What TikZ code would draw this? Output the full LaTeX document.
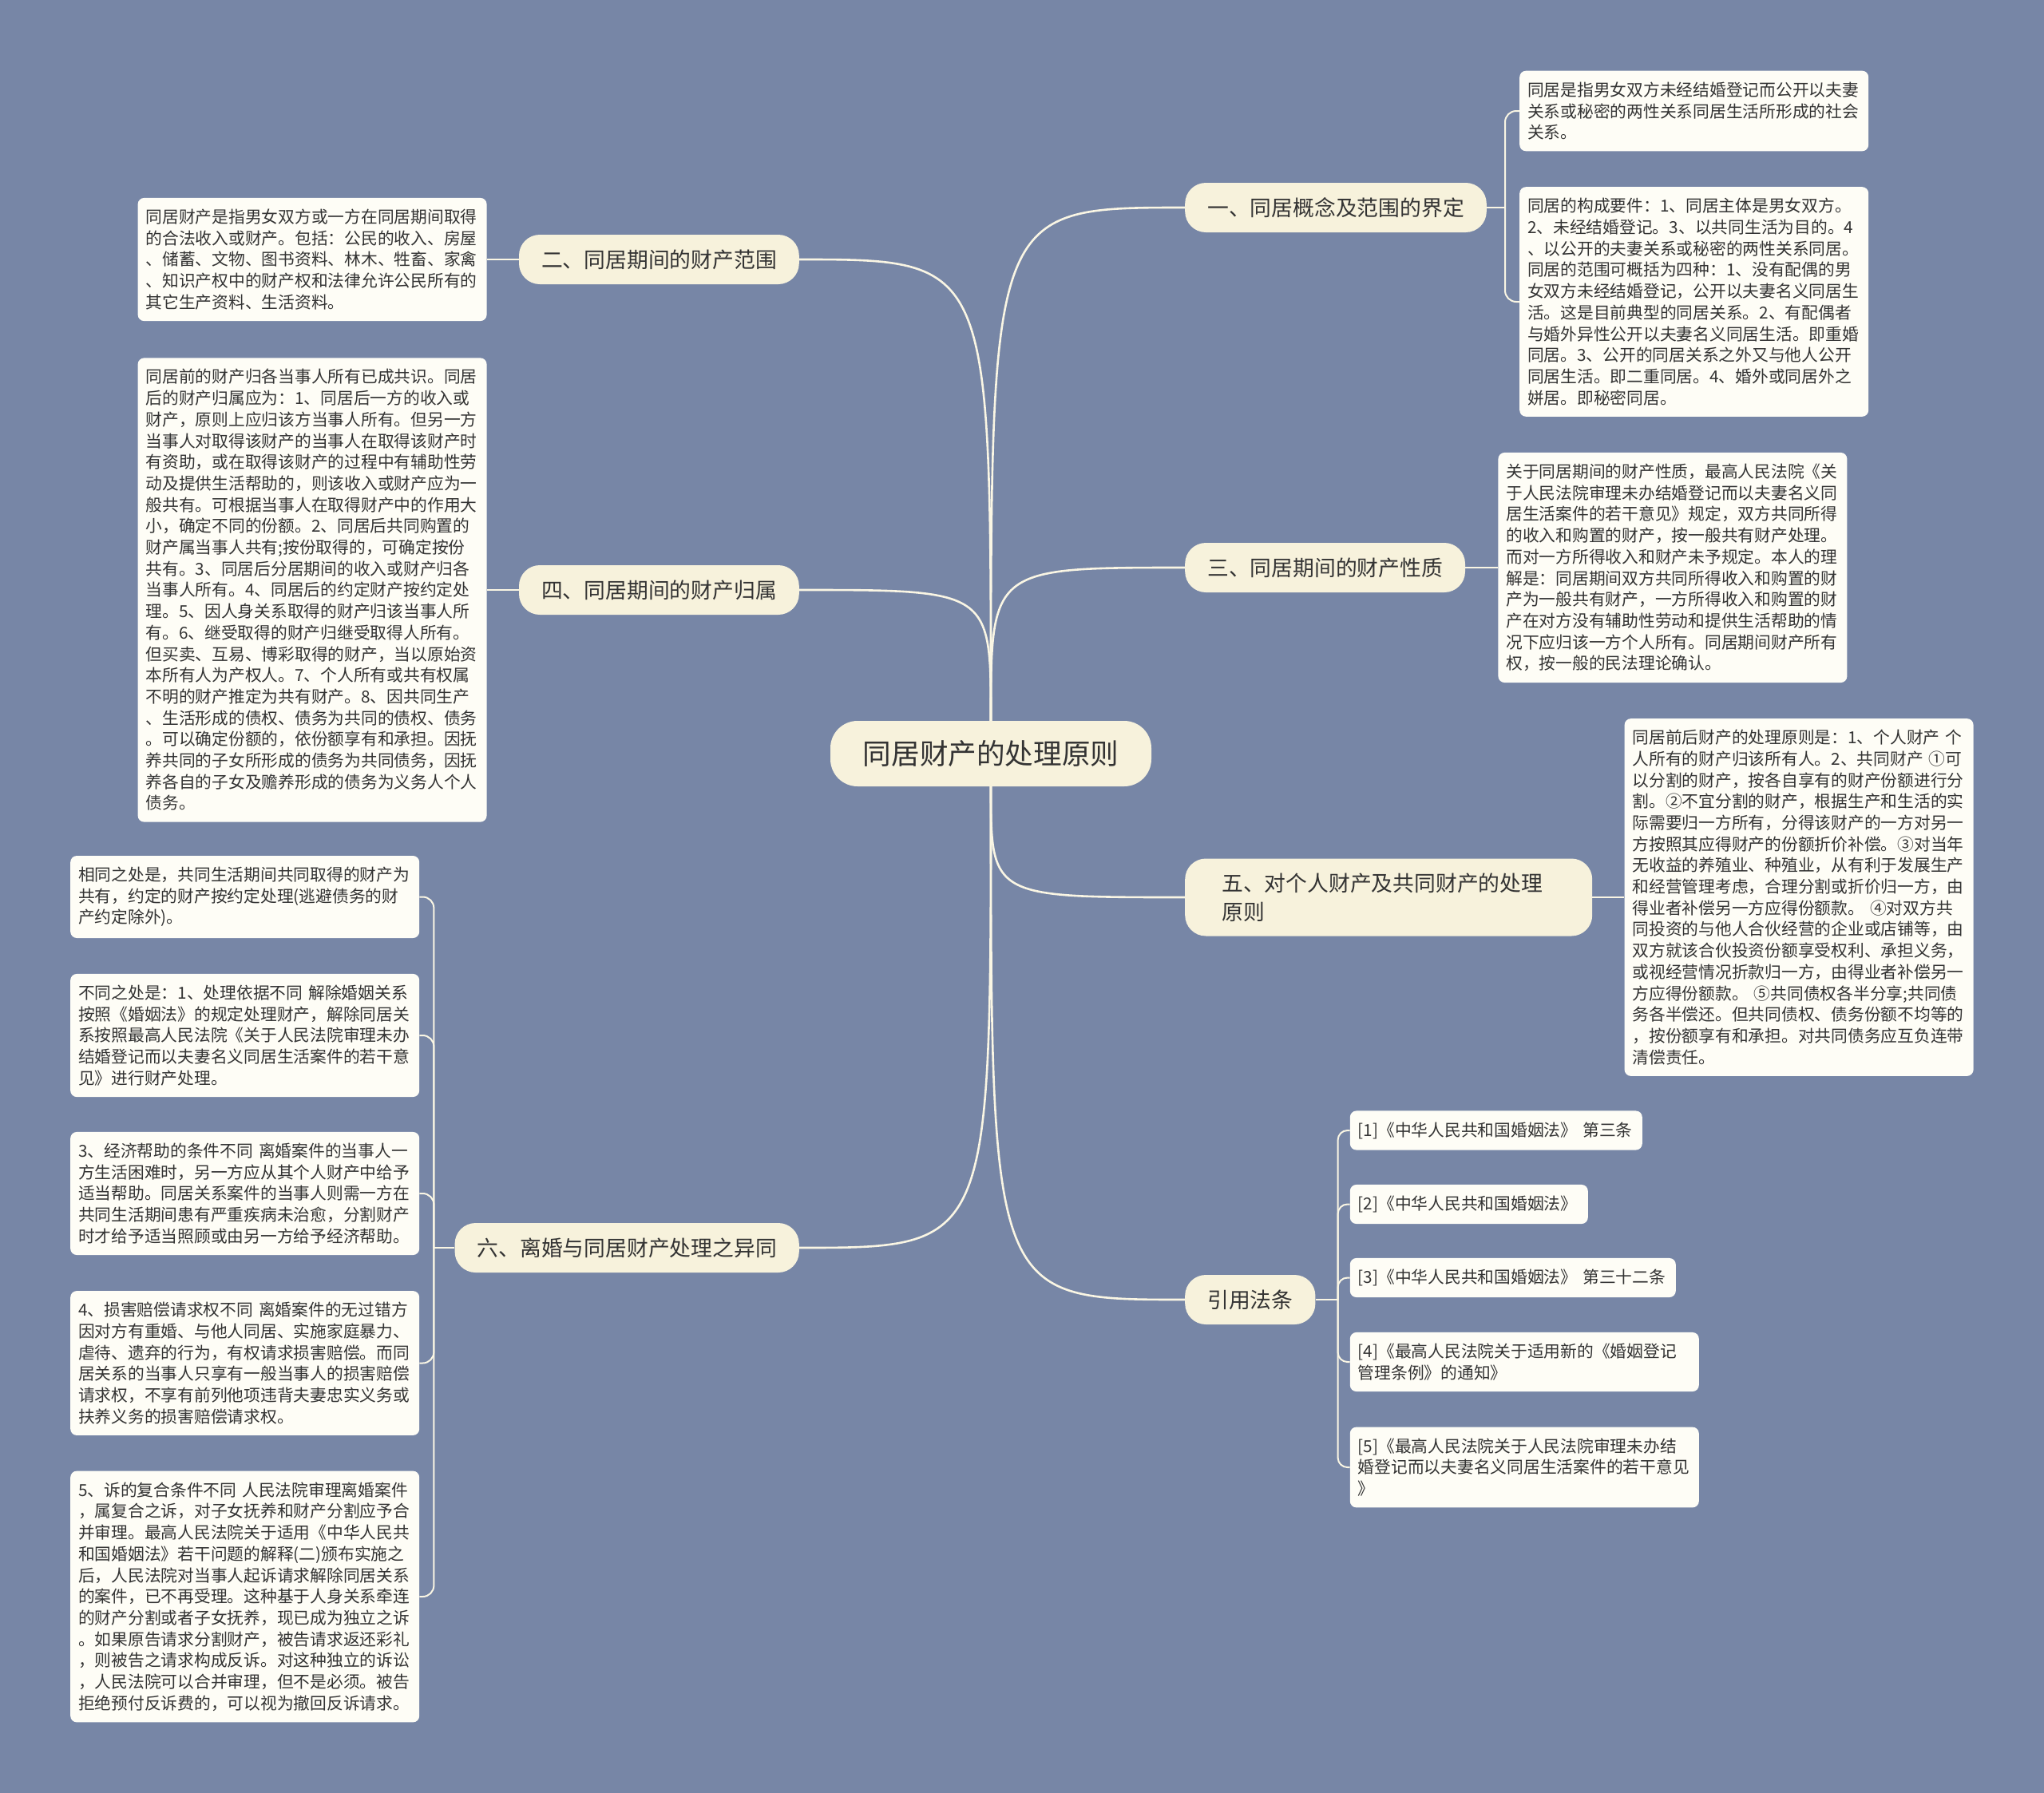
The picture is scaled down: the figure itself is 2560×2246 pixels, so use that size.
\documentclass[tikz,border=0pt]{standalone}
\usepackage{fontspec}
\setmainfont{Noto Sans CJK SC}
\usetikzlibrary{positioning}
\definecolor{bgfill}{HTML}{7786A6}
\definecolor{hubfill}{HTML}{F7F2DC}
\definecolor{topicfill}{HTML}{F7F2DC}
\definecolor{leaffill}{HTML}{FEFDF6}
\definecolor{wire}{HTML}{FAF6E4}
\definecolor{ink}{HTML}{333333}
\newcommand{\leaffont}{\fontsize{20.75pt}{26.7pt}\selectfont}
\newcommand{\topicfont}{\fontsize{26.8pt}{36pt}\selectfont}
\newcommand{\hubfont}{\fontsize{35.6pt}{42pt}\selectfont}
\tikzset{
  bigbox/.style={
    text=ink,
    inner ysep=0pt
  },
  hub/.style={bigbox, fill=hubfill, rounded corners=34pt, minimum width=402pt, minimum height=82pt, font=\hubfont},
  topic/.style={bigbox, fill=topicfill, rounded corners=26pt, inner xsep=28pt, minimum height=62pt, font=\topicfont},
  topicwide/.style={topic, text width=418pt, align=left, inner xsep=46pt, minimum height=97pt},
  leaf/.style={bigbox, fill=leaffill, rounded corners=8pt, inner xsep=10pt, inner ysep=14pt, text width=417pt, align=left, font=\leaffont},
  cite/.style={leaf},
  trunk/.style={draw=wire, line width=2.6pt},
  twig/.style={draw=wire, line width=2pt}
}

\begin{document}
\begin{tikzpicture}[x=1pt, y=-1pt]

  \fill[bgfill] (0,0) rectangle (2560,2246);
  \useasboundingbox (0,0) rectangle (2560,2246);

  \node[hub] (hub) at (1241,944) {同居财产的处理原则};

  \node[topic, anchor=west] (t1) at (1484,260) {一、同居概念及范围的界定};
  \node[topic, anchor=east] (t2) at (1001,325) {二、同居期间的财产范围};
  \node[topic, anchor=west] (t3) at (1484,711) {三、同居期间的财产性质};
  \node[topic, anchor=east] (t4) at (1001,739) {四、同居期间的财产归属};
  \node[topicwide, anchor=west] (t5) at (1484,1124) {五、对个人财产及共同财产的处理\\原则};
  \node[topic, anchor=east] (t6) at (1001,1563) {六、离婚与同居财产处理之异同};
  \node[topic, anchor=west] (t7) at (1484,1628) {引用法条};

  % right side
  \node[leaf, right=41pt of t1, yshift=121pt] (l1a) {同居是指男女双方未经结婚登记而公开以夫妻\\
    关系或秘密的两性关系同居生活所形成的社会\\
    关系。};
  \node[leaf, right=41pt of t1, yshift=-118pt] (l1b) {同居的构成要件：1、同居主体是男女双方。\\
    2、未经结婚登记。3、以共同生活为目的。4\\
    、以公开的夫妻关系或秘密的两性关系同居。\\
    同居的范围可概括为四种：1、没有配偶的男\\
    女双方未经结婚登记，公开以夫妻名义同居生\\
    活。这是目前典型的同居关系。2、有配偶者\\
    与婚外异性公开以夫妻名义同居生活。即重婚\\
    同居。3、公开的同居关系之外又与他人公开\\
    同居生活。即二重同居。4、婚外或同居外之\\
    姘居。即秘密同居。};
  \node[leaf, right=41pt of t3] (l3) {关于同居期间的财产性质，最高人民法院《关\\
    于人民法院审理未办结婚登记而以夫妻名义同\\
    居生活案件的若干意见》规定，双方共同所得\\
    的收入和购置的财产，按一般共有财产处理。\\
    而对一方所得收入和财产未予规定。本人的理\\
    解是：同居期间双方共同所得收入和购置的财\\
    产为一般共有财产，一方所得收入和购置的财\\
    产在对方没有辅助性劳动和提供生活帮助的情\\
    况下应归该一方个人所有。同居期间财产所有\\
    权，按一般的民法理论确认。};
  \node[leaf, right=40pt of t5] (l5) {同居前后财产的处理原则是：1、个人财产 个\\
    人所有的财产归该所有人。2、共同财产 ①可\\
    以分割的财产，按各自享有的财产份额进行分\\
    割。②不宜分割的财产，根据生产和生活的实\\
    际需要归一方所有，分得该财产的一方对另一\\
    方按照其应得财产的份额折价补偿。③对当年\\
    无收益的养殖业、种殖业，从有利于发展生产\\
    和经营管理考虑，合理分割或折价归一方，由\\
    得业者补偿另一方应得份额款。 ④对双方共\\
    同投资的与他人合伙经营的企业或店铺等，由\\
    双方就该合伙投资份额享受权利、承担义务，\\
    或视经营情况折款归一方，由得业者补偿另一\\
    方应得份额款。 ⑤共同债权各半分享;共同债\\
    务各半偿还。但共同债权、债务份额不均等的\\
    ，按份额享有和承担。对共同债务应互负连带\\
    清偿责任。};

  \node[cite, text width=346pt, right=43pt of t7, yshift=212pt] (r1) {[1]《中华人民共和国婚姻法》 第三条};
  \node[cite, text width=278pt, right=43pt of t7, yshift=119.5pt] (r2) {[2]《中华人民共和国婚姻法》};
  \node[cite, text width=388pt, right=43pt of t7, yshift=27.5pt] (r3) {[3]《中华人民共和国婚姻法》 第三十二条};
  \node[cite, right=43pt of t7, yshift=-78pt] (r4) {[4]《最高人民法院关于适用新的《婚姻登记\\
    管理条例》的通知》};
  \node[cite, right=43pt of t7, yshift=-210pt] (r5) {[5]《最高人民法院关于人民法院审理未办结\\
    婚登记而以夫妻名义同居生活案件的若干意见\\
    》};

  % left side
  \node[leaf, left=40pt of t2] (l2) {同居财产是指男女双方或一方在同居期间取得\\
    的合法收入或财产。包括：公民的收入、房屋\\
    、储蓄、文物、图书资料、林木、牲畜、家禽\\
    、知识产权中的财产权和法律允许公民所有的\\
    其它生产资料、生活资料。};
  \node[leaf, left=40pt of t4] (l4) {同居前的财产归各当事人所有已成共识。同居\\
    后的财产归属应为：1、同居后一方的收入或\\
    财产，原则上应归该方当事人所有。但另一方\\
    当事人对取得该财产的当事人在取得该财产时\\
    有资助，或在取得该财产的过程中有辅助性劳\\
    动及提供生活帮助的，则该收入或财产应为一\\
    般共有。可根据当事人在取得财产中的作用大\\
    小，确定不同的份额。2、同居后共同购置的\\
    财产属当事人共有;按份取得的，可确定按份\\
    共有。3、同居后分居期间的收入或财产归各\\
    当事人所有。4、同居后的约定财产按约定处\\
    理。5、因人身关系取得的财产归该当事人所\\
    有。6、继受取得的财产归继受取得人所有。\\
    但买卖、互易、博彩取得的财产，当以原始资\\
    本所有人为产权人。7、个人所有或共有权属\\
    不明的财产推定为共有财产。8、因共同生产\\
    、生活形成的债权、债务为共同的债权、债务\\
    。可以确定份额的，依份额享有和承担。因抚\\
    养共同的子女所形成的债务为共同债务，因抚\\
    养各自的子女及赡养形成的债务为义务人个人\\
    债务。};

  \node[leaf, left=44pt of t6, yshift=439.5pt] (s1) {相同之处是，共同生活期间共同取得的财产为\\
    共有，约定的财产按约定处理(逃避债务的财\\
    产约定除外)。};
  \node[leaf, left=44pt of t6, yshift=266pt] (s2) {不同之处是：1、处理依据不同 解除婚姻关系\\
    按照《婚姻法》的规定处理财产，解除同居关\\
    系按照最高人民法院《关于人民法院审理未办\\
    结婚登记而以夫妻名义同居生活案件的若干意\\
    见》进行财产处理。};
  \node[leaf, left=44pt of t6, yshift=68pt] (s3) {3、经济帮助的条件不同 离婚案件的当事人一\\
    方生活困难时，另一方应从其个人财产中给予\\
    适当帮助。同居关系案件的当事人则需一方在\\
    共同生活期间患有严重疾病未治愈，分割财产\\
    时才给予适当照顾或由另一方给予经济帮助。};
  \node[leaf, left=44pt of t6, yshift=-144.5pt] (s4) {4、损害赔偿请求权不同 离婚案件的无过错方\\
    因对方有重婚、与他人同居、实施家庭暴力、\\
    虐待、遗弃的行为，有权请求损害赔偿。而同\\
    居关系的当事人只享有一般当事人的损害赔偿\\
    请求权，不享有前列他项违背夫妻忠实义务或\\
    扶养义务的损害赔偿请求权。};
  \node[leaf, left=44pt of t6, yshift=-437pt] (s5) {5、诉的复合条件不同 人民法院审理离婚案件\\
    ，属复合之诉，对子女抚养和财产分割应予合\\
    并审理。最高人民法院关于适用《中华人民共\\
    和国婚姻法》若干问题的解释(二)颁布实施之\\
    后，人民法院对当事人起诉请求解除同居关系\\
    的案件，已不再受理。这种基于人身关系牵连\\
    的财产分割或者子女抚养，现已成为独立之诉\\
    。如果原告请求分割财产，被告请求返还彩礼\\
    ，则被告之请求构成反诉。对这种独立的诉讼\\
    ，人民法院可以合并审理，但不是必须。被告\\
    拒绝预付反诉费的，可以视为撤回反诉请求。};

  % hub to topics
  \draw[trunk] (hub.north) .. controls (hub.north |- t1.west) .. (t1.west);
  \draw[trunk] (hub.north) .. controls (hub.north |- t2.east) .. (t2.east);
  \draw[trunk] (hub.north) .. controls (hub.north |- t3.west) .. (t3.west);
  \draw[trunk] (hub.north) .. controls (hub.north |- t4.east) .. (t4.east);
  \draw[trunk] (hub.south) .. controls (hub.south |- t5.west) .. (t5.west);
  \draw[trunk] (hub.south) .. controls (hub.south |- t6.east) .. (t6.east);
  \draw[trunk] (hub.south) .. controls (hub.south |- t7.west) .. (t7.west);

  % topics to leaves
  \coordinate[right=23pt of t1.east] (k1);
  \draw[twig] (t1.east) -- (k1);
  \draw[twig, rounded corners=14pt] (k1) |- (l1a.west);
  \draw[twig, rounded corners=14pt] (k1) |- (l1b.west);

  \draw[twig] (t2.west) -- (l2.east);
  \draw[twig] (t3.east) -- (l3.west);
  \draw[twig] (t4.west) -- (l4.east);
  \draw[twig] (t5.east) -- (l5.west);

  \coordinate[left=26pt of t6.west] (k6);
  \draw[twig] (t6.west) -- (k6);
  \foreach \s in {s1,s2,s3,s4,s5}
    \draw[twig, rounded corners=14pt] (k6) |- (\s.east);

  \coordinate[right=28pt of t7.east] (k7);
  \draw[twig] (t7.east) -- (k7);
  \foreach \r in {r1,r2,r3,r4,r5}
    \draw[twig, rounded corners=12pt] (k7) |- (\r.west);

\end{tikzpicture}
\end{document}
